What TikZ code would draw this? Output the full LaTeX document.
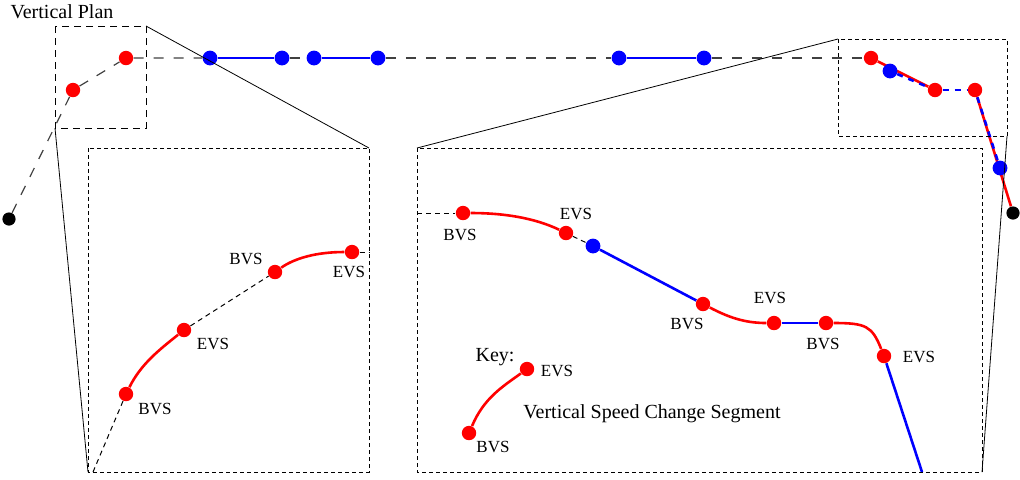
\documentclass[tikz,border=0pt]{standalone}
\usepackage{fontspec}
\setmainfont{Liberation Serif}
\usetikzlibrary{positioning,backgrounds}
\definecolor{vsred}{RGB}{255,0,0}
\definecolor{lvblue}{RGB}{0,0,255}
\tikzset{
  vsdot/.style={circle, fill=vsred, inner sep=0pt, minimum size=7.2pt},
  lvdot/.style={circle, fill=lvblue, inner sep=0pt, minimum size=7.4pt},
  enddot/.style={circle, fill=black, inner sep=0pt, minimum size=6.6pt},
  vsline/.style={vsred, line width=1.3pt},
  lvline/.style={lvblue, line width=1.3pt},
  lvdash/.style={lvblue, line width=1.3pt, dash pattern=on 3pt off 3pt},
  gapline/.style={black!75, line width=0.6pt, dash pattern=on 5pt off 5pt},
  gapfine/.style={black, line width=0.5pt, dash pattern=on 2.5pt off 2pt},
  planbox/.style={draw=black, line width=0.5pt, dash pattern=on 3.5pt off 2.5pt},
  zoombox/.style={draw=black, line width=0.5pt, dash pattern=on 2pt off 1.5pt},
  zoomline/.style={black, line width=0.4pt},
  tag/.style={font=\fontsize{8.5}{10}\selectfont, inner sep=0pt},
  heading/.style={font=\fontsize{10}{12}\selectfont, inner sep=0pt},
}

\begin{document}
\begin{tikzpicture}[x=0.5pt, y=-0.5pt]
\useasboundingbox (0,0) rectangle (1020,479);

\node[heading] (plan) at (62,12) {Vertical Plan};

\coordinate (tlA) at (55,26);  \coordinate (tlB) at (146,128);
\coordinate (trA) at (838,39); \coordinate (trB) at (1007,136);
\coordinate (llA) at (88,148); \coordinate (llB) at (369,472);
\coordinate (lrA) at (417,148); \coordinate (lrB) at (982,472);
\draw[planbox] (tlA) rectangle (tlB);
\draw[zoombox] (trA) rectangle (trB);
\draw[zoombox] (llA) rectangle (llB);
\draw[zoombox] (lrA) rectangle (lrB);

\node[enddot] (s0) at (9,219) {};
\node[vsdot] (s1) at (73,90) {};
\node[vsdot] (s2) at (126,58) {};
\node[lvdot] (s3) at (210,58) {};
\node[lvdot] (s4) at (282,58) {};
\node[lvdot] (s5) at (314,58) {};
\node[lvdot] (s6) at (378,58) {};
\node[lvdot] (s7) at (619,58) {};
\node[lvdot] (s8) at (704,58) {};
\node[vsdot] (s9) at (871,58) {};
\node[lvdot] (s10) at (890,71) {};
\node[vsdot] (s11) at (935,90) {};
\node[vsdot] (s12) at (975,90) {};
\node[lvdot] (s13) at (1000,168) {};
\node[enddot] (s14) at (1013,213) {};

\coordinate (a0) at (93,472);
\node[vsdot] (a1) at (126,394) {};
\node[vsdot] (a2) at (184,330) {};
\node[vsdot] (a3) at (275,272) {};
\node[vsdot] (a4) at (352,252) {};
\coordinate (a5) at (369,252);
\node[tag] (a1t) at (155,409) {BVS};
\node[tag] (a2t) at (213,344) {EVS};
\node[tag] (a3t) at (246,259) {BVS};
\node[tag] (a4t) at (349,272) {EVS};

\coordinate (b0) at (417,213);
\node[vsdot] (b1) at (463,213) {};
\node[vsdot] (b2) at (566,233) {};
\node[lvdot] (b3) at (593,246) {};
\node[vsdot] (b4) at (703,304) {};
\node[vsdot] (b5) at (774,323) {};
\node[vsdot] (b6) at (826,323) {};
\node[vsdot] (b7) at (884,356) {};
\coordinate (b8) at (922,472);
\node[tag] (b1t) at (460,235) {BVS};
\node[tag] (b2t) at (576,214) {EVS};
\node[tag] (b4t) at (687,324) {BVS};
\node[tag] (b5t) at (770,298) {EVS};
\node[tag] (b6t) at (823,344) {BVS};
\node[tag] (b7t) at (919,357) {EVS};

\node[heading] (key) at (495,357) {Key:};
\node[vsdot] (k1) at (469,433) {};
\node[vsdot] (k2) at (527,369) {};
\node[tag] (k1t) at (493,447) {BVS};
\node[tag] (k2t) at (557,371) {EVS};
\node[heading] (keytext) at (652,414) {Vertical Speed Change Segment};

\begin{scope}[on background layer]
\draw[gapline] (s0) -- (s1) -- (s2) -- (s3);
\draw[lvline] (s3) -- (s4);
\draw[gapline] (s4) -- (s5);
\draw[lvline] (s5) -- (s6);
\draw[gapline] (s6) -- (s7);
\draw[lvline] (s7) -- (s8);
\draw[gapline] (s8) -- (s9);
\draw[vsline] (s9) -- (s11);
\draw[lvdash] (s10) -- (s11);
\draw[lvdash] (s11) -- (s12);
\draw[vsline] (s12) -- (s14);
\draw[lvdash] (s12) -- (s13);

\draw[gapfine] (a0) -- (a1);
\draw[vsline] (a1) .. controls +(15,-30) and +(-25,20) .. (a2);
\draw[gapfine] (a2) -- (a3);
\draw[vsline] (a3) .. controls +(20,-14) and +(-35,0) .. (a4);
\draw[gapfine] (a4) -- (a5);

\draw[gapfine] (b0) -- (b1);
\draw[vsline] (b1) .. controls +(50,0) and +(-25,-12) .. (b2);
\draw[gapfine] (b2) -- (b3);
\draw[lvline] (b3) -- (b4);
\draw[vsline] (b4) .. controls +(25,13) and +(-30,0) .. (b5);
\draw[lvline] (b5) -- (b6);
\draw[vsline] (b6) .. controls +(40,0) and +(-12,-30) .. (b7);
\draw[lvline] (b7) -- (b8);

\draw[vsline] (k1) .. controls +(15,-35) and +(-25,18) .. (k2);
\end{scope}

\draw[zoomline] (tlB |- tlA) -- (llB |- llA);
\draw[zoomline] (tlA |- tlB) -- (llA |- llB);
\draw[zoomline] (trA) -- (lrA);
\draw[zoomline] (trB) -- (lrB);
\end{tikzpicture}
\end{document}
